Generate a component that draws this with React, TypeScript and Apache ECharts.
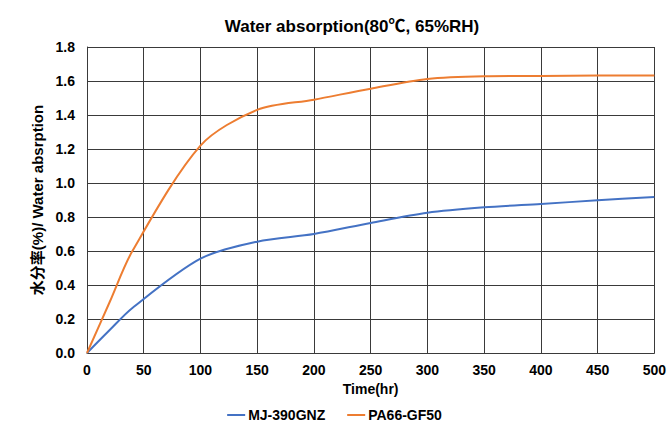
import React, { useEffect, useRef } from "react";
import * as echarts from "echarts";

const times = [0, 20, 40, 100, 150, 200, 250, 300, 350, 400, 450, 500];
const mj390gnz = [0, 0.135, 0.265, 0.555, 0.655, 0.70, 0.765, 0.825, 0.857, 0.877, 0.898, 0.918];
const pa66gf50 = [0, 0.30, 0.60, 1.22, 1.43, 1.49, 1.555, 1.612, 1.628, 1.63, 1.632, 1.632];
const xTicks = [0, 50, 100, 150, 200, 250, 300, 350, 400, 450, 500];
const yTicks = [0, 0.2, 0.4, 0.6, 0.8, 1.0, 1.2, 1.4, 1.6, 1.8];

const FONT = "'Liberation Sans', 'Noto Sans CJK SC', Arial, sans-serif";

export default function App() {
  const ref = useRef<HTMLDivElement>(null);
  useEffect(() => {
    document.body.style.margin = "0";
    const chart = echarts.init(ref.current!, null, { renderer: "svg" });
    const gridLine = { show: true, lineStyle: { color: "#3a3a3a", width: 1 } };
    const txt = { fontFamily: FONT, fontWeight: "bold", fontSize: 14, color: "#000" };
    chart.setOption({
      animation: false,
      backgroundColor: "#ffffff",
      textStyle: { fontFamily: FONT },
      title: {
        text: "Water absorption(80℃, 65%RH)",
        left: 347,
        textAlign: "center",
        top: 13,
        textStyle: { fontFamily: FONT, fontWeight: "bold", fontSize: 17, color: "#000" },
      },
      grid: { left: 87, right: 13, top: 47, bottom: 74 },
      legend: {
        bottom: 0,
        left: "center",
        icon: "rect",
        itemWidth: 18,
        itemHeight: 2,
        itemGap: 22,
        textStyle: { ...txt, padding: [0, 0, 0, -2] },
        data: ["MJ-390GNZ", "PA66-GF50"],
      },
      xAxis: {
        type: "value",
        min: xTicks[0],
        max: xTicks[xTicks.length - 1],
        interval: 50,
        name: "Time(hr)",
        nameLocation: "middle",
        nameGap: 28,
        nameTextStyle: txt,
        axisLine: { show: true, lineStyle: { color: "#3a3a3a", width: 1 } },
        axisTick: { show: false },
        axisLabel: { ...txt, margin: 10 },
        splitLine: gridLine,
      },
      yAxis: {
        type: "value",
        min: yTicks[0],
        max: yTicks[yTicks.length - 1],
        interval: 0.2,
        name: "水分率(%)/ Water absrption",
        nameLocation: "middle",
        nameGap: 42,
        nameTextStyle: { ...txt, fontSize: 15 },
        axisLine: { show: true, lineStyle: { color: "#3a3a3a", width: 1 } },
        axisTick: { show: false },
        axisLabel: {
          ...txt,
          margin: 12,
          formatter: (v: number) => v.toFixed(1),
        },
        splitLine: gridLine,
      },
      series: [
        {
          name: "MJ-390GNZ",
          type: "line",
          data: times.map((t, i) => [t, mj390gnz[i]]),
          smooth: 0.3,
          symbol: "none",
          lineStyle: { color: "#4472C4", width: 2 },
          itemStyle: { color: "#4472C4" },
        },
        {
          name: "PA66-GF50",
          type: "line",
          data: times.map((t, i) => [t, pa66gf50[i]]),
          smooth: 0.3,
          symbol: "none",
          lineStyle: { color: "#ED7D31", width: 2 },
          itemStyle: { color: "#ED7D31" },
        },
      ],
    });
    return () => chart.dispose();
  }, []);
  return <div ref={ref} style={{ width: 669, height: 427 }} />;
}
